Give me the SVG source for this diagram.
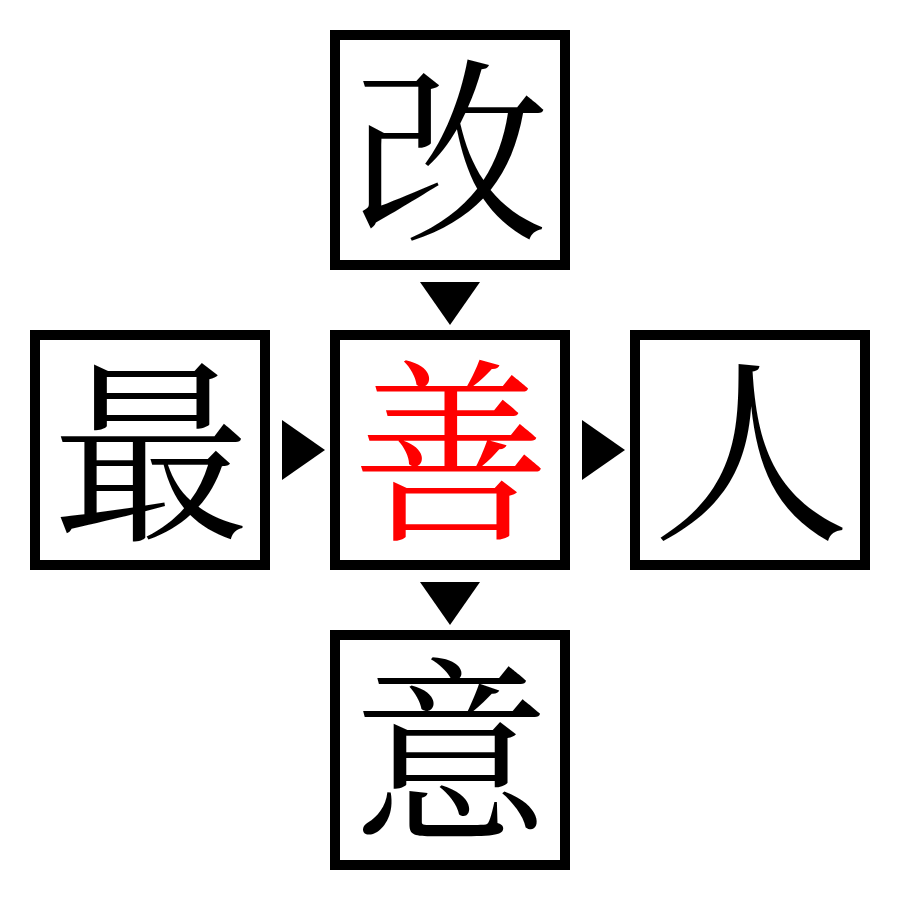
<svg xmlns="http://www.w3.org/2000/svg" width="900" height="900" viewBox="0 0 900 900">
<style>
.box{fill:#fff;stroke:#000;stroke-width:10}
.ch{font-family:'Noto Serif CJK SC','Noto Sans CJK SC',serif;font-size:197px;text-anchor:middle;dominant-baseline:central;fill:#000}
.hl{fill:#ff0000}
.arr{fill:#000}
</style>
<rect width="900" height="900" fill="#fff"/>
<g id="top"><rect class="box" x="335" y="35" width="230" height="230"/><text class="ch" x="451" y="139">改</text></g>
<g id="left"><rect class="box" x="35" y="335" width="230" height="230"/><text class="ch" x="151" y="439">最</text></g>
<g id="center"><rect class="box" x="335" y="335" width="230" height="230"/><text class="ch hl" x="451" y="439">善</text></g>
<g id="right"><rect class="box" x="635" y="335" width="230" height="230"/><text class="ch" x="751" y="439">人</text></g>
<g id="bottom"><rect class="box" x="335" y="635" width="230" height="230"/><text class="ch" x="451" y="739">意</text></g>
<g id="connectors">
<polygon class="arr" points="420,282 480,282 450,325"/>
<polygon class="arr" points="282,420 282,480 325,450"/>
<polygon class="arr" points="582,420 582,480 625,450"/>
<polygon class="arr" points="420,582 480,582 450,625"/>
</g>
</svg>
